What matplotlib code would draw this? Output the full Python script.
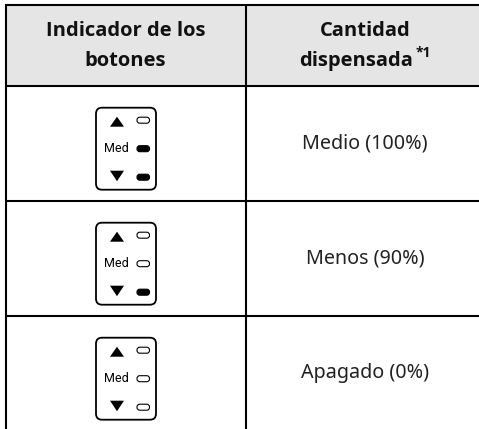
import matplotlib
matplotlib.use("Agg")
import matplotlib.pyplot as plt
from matplotlib.patches import Rectangle, FancyBboxPatch, Polygon

header_left = ["Indicador de los", "botones"]
header_right = ["Cantidad", "dispensada"]
footnote_mark = "*1"
row_labels = ["Medio (100%)", "Menos (90%)", "Apagado (0%)"]
button_text = "Med"
# LED state per row: top, middle, bottom (True = filled)
led_states = [[False, True, True], [False, False, True], [False, False, False]]

W, H = 479, 429
fig = plt.figure(figsize=(W / 100, H / 100), dpi=100)
ax = fig.add_axes([0, 0, 1, 1])
ax.set_xlim(0, W)
ax.set_ylim(H, 0)
ax.axis("off")

font = "Noto Sans"
bold_font = "Open Sans"
L, M, R, T = 6, 245.7, 481, 5
rows = [85.7, 200.7, 315.7]
B = 430.7
ax.add_patch(Rectangle((L, T), R - L, rows[0] - T, fc="#e5e5e5", ec="none"))
for y in [T] + rows:
    ax.plot([L - 1, R + 1], [y, y], color="k", lw=1.5, solid_capstyle="butt")
for x in [L, M]:
    ax.plot([x, x], [T, B], color="k", lw=1.5, solid_capstyle="butt")

for lines, cx in [(header_left, [125.5, 125.5]), (header_right, [365.3, 356.5])]:
    for y, s, x in zip([36.5, 66], lines, cx):
        ax.text(x, y, s, ha="center", va="baseline", fontsize=14.5, fontweight="bold",
                family=bold_font, color="#111111")
ax.text(415.5, 53, footnote_mark, ha="left", va="center", fontsize=10,
        fontweight="bold", family=bold_font, color="#111111")


def pill(x, y, w, h, filled):
    ax.add_patch(FancyBboxPatch((x, y), w, h, boxstyle="round,pad=0,rounding_size=2.8",
                                fc="k" if filled else "w", ec="k", lw=0.8))


for top, label, leds in zip(rows, row_labels, led_states):
    ax.text(365, top + 57.5, label, ha="center", va="center", fontsize=14.2,
            family=font, color="#222222")
    y0 = top + 22
    ax.add_patch(FancyBboxPatch((96, y0), 60, 82, boxstyle="round,pad=0,rounding_size=6",
                                fc="w", ec="k", lw=1.3))
    cx = 117
    ax.add_patch(Polygon([[cx - 7, y0 + 19], [cx + 7, y0 + 19], [cx, y0 + 9]], fc="k", ec="none"))
    ax.add_patch(Polygon([[cx - 7, y0 + 63], [cx + 7, y0 + 63], [cx, y0 + 73.5]], fc="k", ec="none"))
    ax.text(116.5, y0 + 41, button_text, ha="center", va="center", fontsize=9,
            family="Roboto", color="k")
    for dy, on in zip([9.5, 38, 66.5], leds):
        pill(137, y0 + dy, 12.5, 6, on)

fig.savefig("out.png", dpi=100)
